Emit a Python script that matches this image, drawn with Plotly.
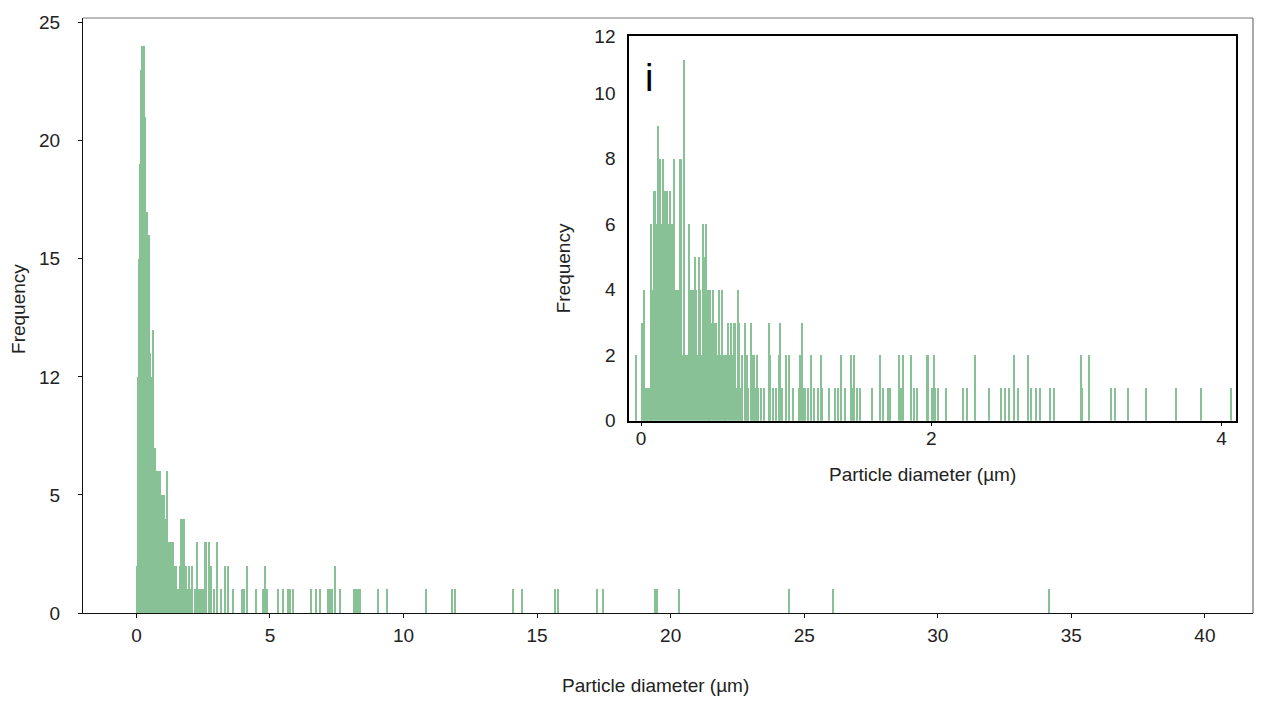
import plotly.graph_objects as go

# ---------------- data ----------------
# main histogram: bin centres (µm) and counts, bin width 0.04 µm
main_x = [0.02, 0.06, 0.10, 0.14, 0.18, 0.22, 0.26, 0.30, 0.34, 0.38,
          0.42, 0.46, 0.50, 0.54, 0.58, 0.62, 0.66, 0.70, 0.74, 0.78,
          0.82, 0.86, 0.90, 0.94, 0.98, 1.02, 1.06, 1.10, 1.14, 1.18,
          1.22, 1.26, 1.30, 1.34, 1.38, 1.42, 1.46, 1.50, 1.54, 1.58,
          1.62, 1.66, 1.70, 1.74, 1.78, 1.82, 1.86, 1.94, 1.98, 2.02,
          2.10, 2.18, 2.26, 2.34, 2.42, 2.50, 2.58, 2.62, 2.70, 2.78,
          2.90, 3.02, 3.18, 3.30, 3.42, 3.62, 3.94, 4.02, 4.14, 4.46,
          4.74, 4.82, 4.90, 5.30, 5.50, 5.66, 5.74, 5.86, 6.54, 6.74,
          6.86, 7.18, 7.26, 7.34, 7.42, 7.62, 8.14, 8.22, 8.30, 8.38,
          9.06, 9.38, 10.86, 11.82, 11.94, 14.10, 14.42, 15.66, 15.78, 17.26,
          17.46, 19.42, 19.50, 20.30, 24.42, 26.06, 34.18]
main_count = [2, 10, 15, 19, 23, 24, 22, 24, 21, 17,
              12, 16, 11, 10, 9, 12, 7, 7, 5, 6,
              6, 5, 6, 5, 4, 5, 4, 3, 6, 3,
              3, 2, 3, 1, 3, 2, 1, 2, 1, 1,
              2, 4, 4, 1, 4, 1, 2, 1, 2, 1,
              2, 1, 3, 1, 1, 1, 3, 3, 3, 2,
              1, 3, 1, 2, 2, 1, 1, 1, 2, 1,
              1, 2, 1, 1, 1, 1, 1, 1, 1, 1,
              1, 1, 1, 1, 2, 1, 1, 1, 1, 1,
              1, 1, 1, 1, 1, 1, 1, 1, 1, 1,
              1, 1, 1, 1, 1, 1, 1]

# inset histogram: bin centres (µm) and counts, bin width 0.01 µm
inset_x = [-0.03, 0.01, 0.02, 0.03, 0.04, 0.05, 0.06, 0.07, 0.08, 0.09,
           0.10, 0.11, 0.12, 0.13, 0.14, 0.15, 0.16, 0.17, 0.18, 0.19,
           0.20, 0.21, 0.22, 0.23, 0.24, 0.25, 0.26, 0.27, 0.28, 0.29,
           0.30, 0.31, 0.32, 0.33, 0.34, 0.35, 0.36, 0.37, 0.38, 0.39,
           0.40, 0.41, 0.42, 0.43, 0.44, 0.45, 0.46, 0.47, 0.48, 0.49,
           0.50, 0.51, 0.52, 0.53, 0.54, 0.55, 0.56, 0.57, 0.58, 0.59,
           0.60, 0.61, 0.62, 0.63, 0.64, 0.65, 0.66, 0.67, 0.68, 0.69,
           0.70, 0.72, 0.73, 0.74, 0.76, 0.77, 0.78, 0.79, 0.80, 0.81,
           0.83, 0.85, 0.88, 0.89, 0.91, 0.93, 0.95, 0.96, 0.97, 1.00,
           1.02, 1.05, 1.09, 1.10, 1.11, 1.12, 1.13, 1.15, 1.17, 1.19,
           1.22, 1.24, 1.25, 1.30, 1.34, 1.36, 1.38, 1.41, 1.45, 1.46,
           1.47, 1.49, 1.51, 1.59, 1.65, 1.67, 1.70, 1.72, 1.78, 1.79,
           1.81, 1.86, 1.88, 1.90, 1.97, 1.98, 2.01, 2.02, 2.03, 2.05,
           2.10, 2.22, 2.25, 2.30, 2.40, 2.48, 2.51, 2.54, 2.57, 2.60,
           2.67, 2.69, 2.72, 2.75, 2.82, 2.85, 3.03, 3.04, 3.09, 3.24,
           3.27, 3.36, 3.48, 3.69, 3.86, 4.07]
inset_count = [2, 3, 4, 1, 1, 1, 1, 6, 4, 7,
               7, 6, 9, 8, 6, 8, 7, 7, 7, 6,
               7, 6, 6, 8, 4, 4, 4, 8, 8, 2,
               11, 2, 2, 6, 4, 4, 4, 5, 4, 2,
               5, 4, 2, 6, 5, 6, 4, 4, 4, 3,
               4, 3, 3, 2, 4, 2, 4, 2, 1, 2,
               3, 2, 3, 2, 3, 3, 1, 4, 3, 1,
               2, 3, 2, 1, 3, 2, 2, 1, 2, 1,
               1, 1, 3, 2, 1, 1, 2, 3, 1, 2,
               2, 1, 1, 2, 3, 1, 1, 1, 2, 1,
               1, 2, 1, 1, 1, 1, 2, 1, 2, 1,
               2, 1, 1, 1, 2, 1, 1, 1, 2, 1,
               2, 2, 1, 1, 2, 2, 1, 2, 1, 1,
               1, 1, 1, 2, 1, 1, 1, 1, 2, 1,
               2, 1, 1, 1, 1, 1, 2, 1, 2, 1,
               1, 1, 1, 1, 1, 1]

main_xticks = [0, 5, 10, 15, 20, 25, 30, 35, 40]
main_yticks = [0, 5, 10, 15, 20, 25]
main_ytext = ["0", "5", "12", "15", "20", "25"]
inset_xticks = [0, 2, 4]
inset_yticks = [0, 2, 4, 6, 8, 10, 11.74]
inset_ytext = ["0", "2", "4", "6", "8", "10", "12"]

x_title = "Particle diameter (µm)"
y_title = "Frequency"
inset_tag = "i"

# ---------------- style ----------------
BAR = "#88c196"
FONT = "Liberation Sans, Arial, sans-serif"
TXT = "#222222"
FS = 19

fig = go.Figure()
fig.add_trace(go.Bar(x=main_x, y=main_count, width=0.04,
                     marker=dict(color=BAR, line=dict(width=0)),
                     xaxis="x", yaxis="y", showlegend=False))
fig.add_trace(go.Bar(x=inset_x, y=inset_count, width=0.01,
                     marker=dict(color=BAR, line=dict(width=0)),
                     xaxis="x2", yaxis="y2", showlegend=False))

ix0, ix1 = 0.4667, 0.9855
iy0, iy1 = 0.323, 0.970

fig.update_layout(
    width=1261, height=704,
    margin=dict(l=83, r=8, t=14, b=91),
    paper_bgcolor="white", plot_bgcolor="white",
    bargap=0, barmode="overlay",
    font=dict(family=FONT, size=FS, color=TXT),
    xaxis=dict(domain=[0, 1], range=[-2, 41.8], tickvals=main_xticks,
               showline=True, linecolor="#111", linewidth=1,
               ticks="outside", ticklen=4, tickcolor="#111",
               showgrid=False, zeroline=False, ticklabelstandoff=1,
               tickfont=dict(size=FS, color=TXT)),
    yaxis=dict(domain=[0, 1], range=[0, 25.2], tickvals=main_yticks, ticktext=main_ytext,
               showline=True, linecolor="#111", linewidth=1,
               ticks="outside", ticklen=4, tickcolor="#111",
               showgrid=False, zeroline=False, ticklabelstandoff=14,
               tickfont=dict(size=FS, color=TXT)),
    xaxis2=dict(domain=[ix0, ix1], anchor="y2", range=[-0.083, 4.1], tickvals=inset_xticks,
                showline=True, mirror=True, linecolor="#000", linewidth=1.5,
                ticks="outside", ticklen=3, tickcolor="#000",
                showgrid=False, zeroline=False, ticklabelstandoff=-3,
                tickfont=dict(size=FS, color=TXT)),
    yaxis2=dict(domain=[iy0, iy1], anchor="x2", range=[0, 11.74],
                tickvals=inset_yticks, ticktext=inset_ytext,
                showline=True, mirror=True, linecolor="#000", linewidth=1.5,
                ticks="", showgrid=False, zeroline=False, ticklabelstandoff=8,
                tickfont=dict(size=FS, color=TXT)),
    shapes=[
        dict(type="line", xref="paper", yref="paper", x0=0, x1=1, y0=1, y1=1,
             line=dict(color="#777", width=1)),
        dict(type="line", xref="paper", yref="paper", x0=1, x1=1, y0=0, y1=1,
             line=dict(color="#555", width=1)),
    ],
    annotations=[
        dict(text=x_title, xref="paper", yref="paper", x=0.4897, y=-0.1219,
             xanchor="center", yanchor="middle", showarrow=False,
             font=dict(size=FS, color=TXT)),
        dict(text=y_title, xref="paper", yref="paper", x=-0.0556, y=0.5109,
             xanchor="center", yanchor="middle", showarrow=False, textangle=-90,
             font=dict(size=FS, color=TXT)),
        dict(text=x_title, xref="paper", yref="paper", x=0.7171, y=0.2321,
             xanchor="center", yanchor="middle", showarrow=False,
             font=dict(size=FS, color=TXT)),
        dict(text=y_title, xref="paper", yref="paper", x=0.4103, y=0.5793,
             xanchor="center", yanchor="middle", showarrow=False, textangle=-90,
             font=dict(size=FS, color=TXT)),
        dict(text=inset_tag, xref="paper", yref="paper", x=0.4838, y=0.8998,
             xanchor="center", yanchor="middle", showarrow=False,
             font=dict(size=38, color="#000")),
    ],
)

fig.write_html("out.html", config={"displayModeBar": False},
               post_script="document.body.style.margin='0';document.body.style.overflow='hidden';")
